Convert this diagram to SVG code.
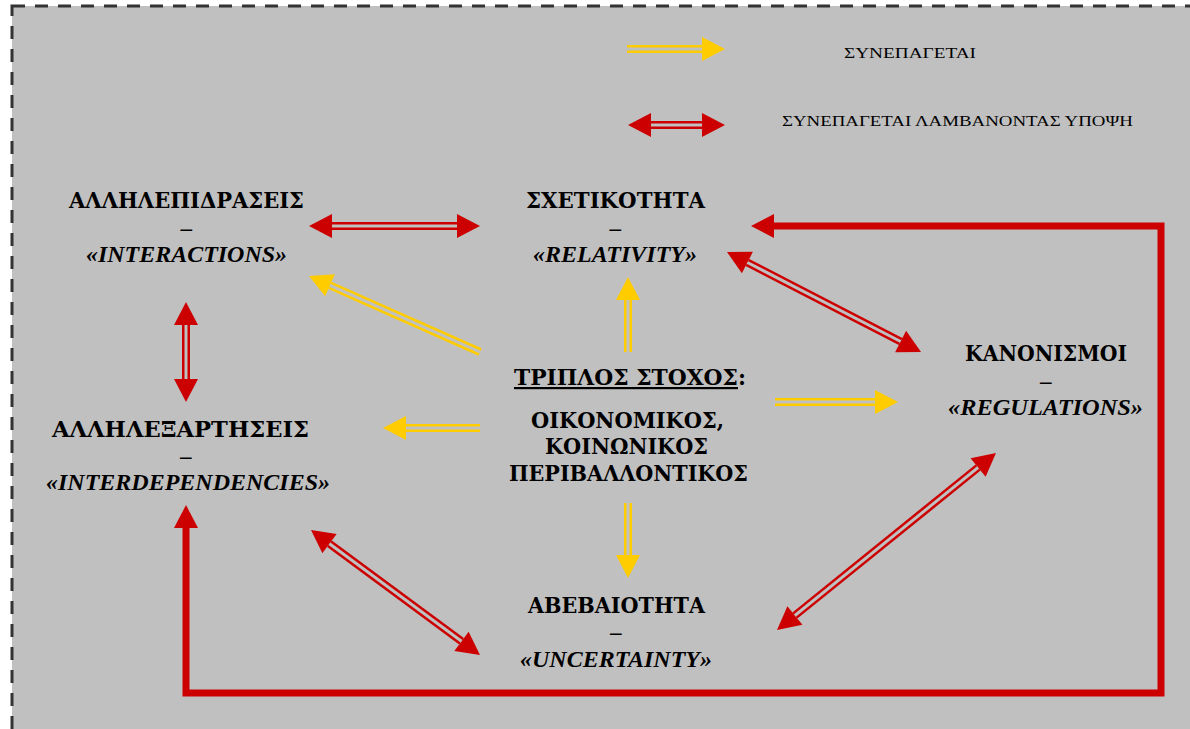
<svg xmlns="http://www.w3.org/2000/svg" width="1190" height="729" viewBox="0 0 1190 729">
  <defs>
    <style>
      .frame { fill: #C0C0C0; stroke: #333333; stroke-width: 3; stroke-dasharray: 13 10; }
      .node text { font-family: "DejaVu Serif", "Liberation Serif", serif; font-size: 22px; font-weight: bold; fill: #000; text-anchor: middle; }
      .node .en { font-family: "Liberation Serif", "Times New Roman", serif; font-size: 23px; font-style: italic; }
      .legend text { font-family: "Liberation Serif", "DejaVu Serif", "Times New Roman", serif; font-size: 14px; fill: #000; }
      .red { stroke: #CC0000; stroke-width: 8; fill: none; }
      .yel { stroke: #FFCC00; stroke-width: 8; fill: none; }
      .gap { stroke: #C0C0C0; stroke-width: 3; fill: none; }
      .thick { stroke: #CC0000; stroke-width: 7; fill: none; stroke-linejoin: miter; }
    </style>
    <!-- triangular heads, drawn beyond the end of the shaft -->
    <marker id="hr" markerUnits="userSpaceOnUse" markerWidth="24" markerHeight="24" refX="0" refY="12" orient="auto-start-reverse" overflow="visible">
      <path d="M0,0 L23,12 L0,24 Z" fill="#CC0000"/>
    </marker>
    <marker id="hy" markerUnits="userSpaceOnUse" markerWidth="24" markerHeight="24" refX="0" refY="12" orient="auto-start-reverse" overflow="visible">
      <path d="M0,0 L23,12 L0,24 Z" fill="#FFCC00"/>
    </marker>
  </defs>

  <rect x="0" y="0" width="1190" height="729" fill="#FFFFFF"/>
  <rect class="frame" x="12" y="6" width="1200" height="760"/>

  <!-- legend -->
  <g id="legend" class="legend">
    <line class="yel" x1="627" y1="49" x2="702" y2="49" marker-end="url(#hy)"/>
    <line class="gap" x1="627" y1="49" x2="702" y2="49"/>
    <line class="red" x1="651" y1="125" x2="702" y2="125" marker-start="url(#hr)" marker-end="url(#hr)"/>
    <line class="gap" x1="651" y1="125" x2="702" y2="125"/>
    <text x="844" y="58" textLength="132" lengthAdjust="spacingAndGlyphs">ΣΥΝΕΠΑΓΕΤΑΙ</text>
    <text x="782" y="126" textLength="351" lengthAdjust="spacingAndGlyphs">ΣΥΝΕΠΑΓΕΤΑΙ ΛΑΜΒΑΝΟΝΤΑΣ ΥΠΟΨΗ</text>
  </g>

  <!-- nodes -->
  <g id="interactions" class="node">
    <text x="186.5" y="208" textLength="235" lengthAdjust="spacingAndGlyphs">ΑΛΛΗΛΕΠΙΔΡΑΣΕΙΣ</text>
    <text class="en" x="186.5" y="236">–</text>
    <text class="en" x="186.5" y="262" textLength="201" lengthAdjust="spacingAndGlyphs">«INTERACTIONS»</text>
  </g>
  <g id="relativity" class="node">
    <text x="615.5" y="208" textLength="179" lengthAdjust="spacingAndGlyphs">ΣΧΕΤΙΚΟΤΗΤΑ</text>
    <text class="en" x="615.5" y="236">–</text>
    <text class="en" x="615" y="262" textLength="164" lengthAdjust="spacingAndGlyphs">«RELATIVITY»</text>
  </g>
  <g id="regulations" class="node">
    <text x="1046" y="361" textLength="162" lengthAdjust="spacingAndGlyphs">ΚΑΝΟΝΙΣΜΟΙ</text>
    <text class="en" x="1046" y="389">–</text>
    <text class="en" x="1045.5" y="415" textLength="195" lengthAdjust="spacingAndGlyphs">«REGULATIONS»</text>
  </g>
  <g id="interdependencies" class="node">
    <text x="180.5" y="437" textLength="257" lengthAdjust="spacingAndGlyphs">ΑΛΛΗΛΕΞΑΡΤΗΣΕΙΣ</text>
    <text class="en" x="186" y="464">–</text>
    <text class="en" x="188" y="490" textLength="284" lengthAdjust="spacingAndGlyphs">«INTERDEPENDENCIES»</text>
  </g>
  <g id="uncertainty" class="node">
    <text x="616.5" y="613" textLength="177" lengthAdjust="spacingAndGlyphs">ΑΒΕΒΑΙΟΤΗΤΑ</text>
    <text class="en" x="616" y="640">–</text>
    <text class="en" x="616" y="667" textLength="192" lengthAdjust="spacingAndGlyphs">«UNCERTAINTY»</text>
  </g>
  <g id="goal" class="node">
    <text x="630" y="385" textLength="232" lengthAdjust="spacingAndGlyphs"><tspan text-decoration="underline">ΤΡΙΠΛΟΣ ΣΤΟΧΟΣ</tspan>:</text>
    <text x="627.5" y="428" textLength="193" lengthAdjust="spacingAndGlyphs">ΟΙΚΟΝΟΜΙΚΟΣ,</text>
    <text x="626.5" y="454" textLength="163" lengthAdjust="spacingAndGlyphs">ΚΟΙΝΩΝΙΚΟΣ</text>
    <text x="628.5" y="481" textLength="239" lengthAdjust="spacingAndGlyphs">ΠΕΡΙΒΑΛΛΟΝΤΙΚΟΣ</text>
  </g>

  <!-- connectors -->
  <g id="connectors">
    <!-- interactions <-> relativity -->
    <line class="red" x1="332" y1="226" x2="457" y2="226" marker-start="url(#hr)" marker-end="url(#hr)"/>
    <line class="gap" x1="332" y1="226" x2="457" y2="226"/>
    <!-- goal -> interactions -->
    <line class="yel" x1="480" y1="352" x2="330" y2="285.3" marker-end="url(#hy)"/>
    <line class="gap" x1="480" y1="352" x2="330" y2="285.3"/>
    <!-- goal -> relativity -->
    <line class="yel" x1="628" y1="352" x2="628" y2="300" marker-end="url(#hy)"/>
    <line class="gap" x1="628" y1="352" x2="628" y2="300"/>
    <!-- relativity <-> regulations -->
    <line class="red" x1="747.4" y1="262.5" x2="900.6" y2="341.5" marker-start="url(#hr)" marker-end="url(#hr)"/>
    <line class="gap" x1="747.4" y1="262.5" x2="900.6" y2="341.5"/>
    <!-- interactions <-> interdependencies -->
    <line class="red" x1="186" y1="325" x2="186" y2="379" marker-start="url(#hr)" marker-end="url(#hr)"/>
    <line class="gap" x1="186" y1="325" x2="186" y2="379"/>
    <!-- goal -> interdependencies -->
    <line class="yel" x1="480" y1="428" x2="406" y2="428" marker-end="url(#hy)"/>
    <line class="gap" x1="480" y1="428" x2="406" y2="428"/>
    <!-- goal -> regulations -->
    <line class="yel" x1="775" y1="402" x2="875" y2="402" marker-end="url(#hy)"/>
    <line class="gap" x1="775" y1="402" x2="875" y2="402"/>
    <!-- goal -> uncertainty -->
    <line class="yel" x1="628" y1="503" x2="628" y2="555" marker-end="url(#hy)"/>
    <line class="gap" x1="628" y1="503" x2="628" y2="555"/>
    <!-- interdependencies <-> uncertainty -->
    <line class="red" x1="329.5" y1="543.7" x2="461.5" y2="641.3" marker-start="url(#hr)" marker-end="url(#hr)"/>
    <line class="gap" x1="329.5" y1="543.7" x2="461.5" y2="641.3"/>
    <!-- regulations <-> uncertainty -->
    <line class="red" x1="978.1" y1="467.5" x2="794.9" y2="615.5" marker-start="url(#hr)" marker-end="url(#hr)"/>
    <line class="gap" x1="978.1" y1="467.5" x2="794.9" y2="615.5"/>
    <!-- outer loop: relativity <-> interdependencies -->
    <path class="thick" d="M774,226 H1161 V693 H186 V528" marker-start="url(#hr)" marker-end="url(#hr)"/>
  </g>
</svg>
